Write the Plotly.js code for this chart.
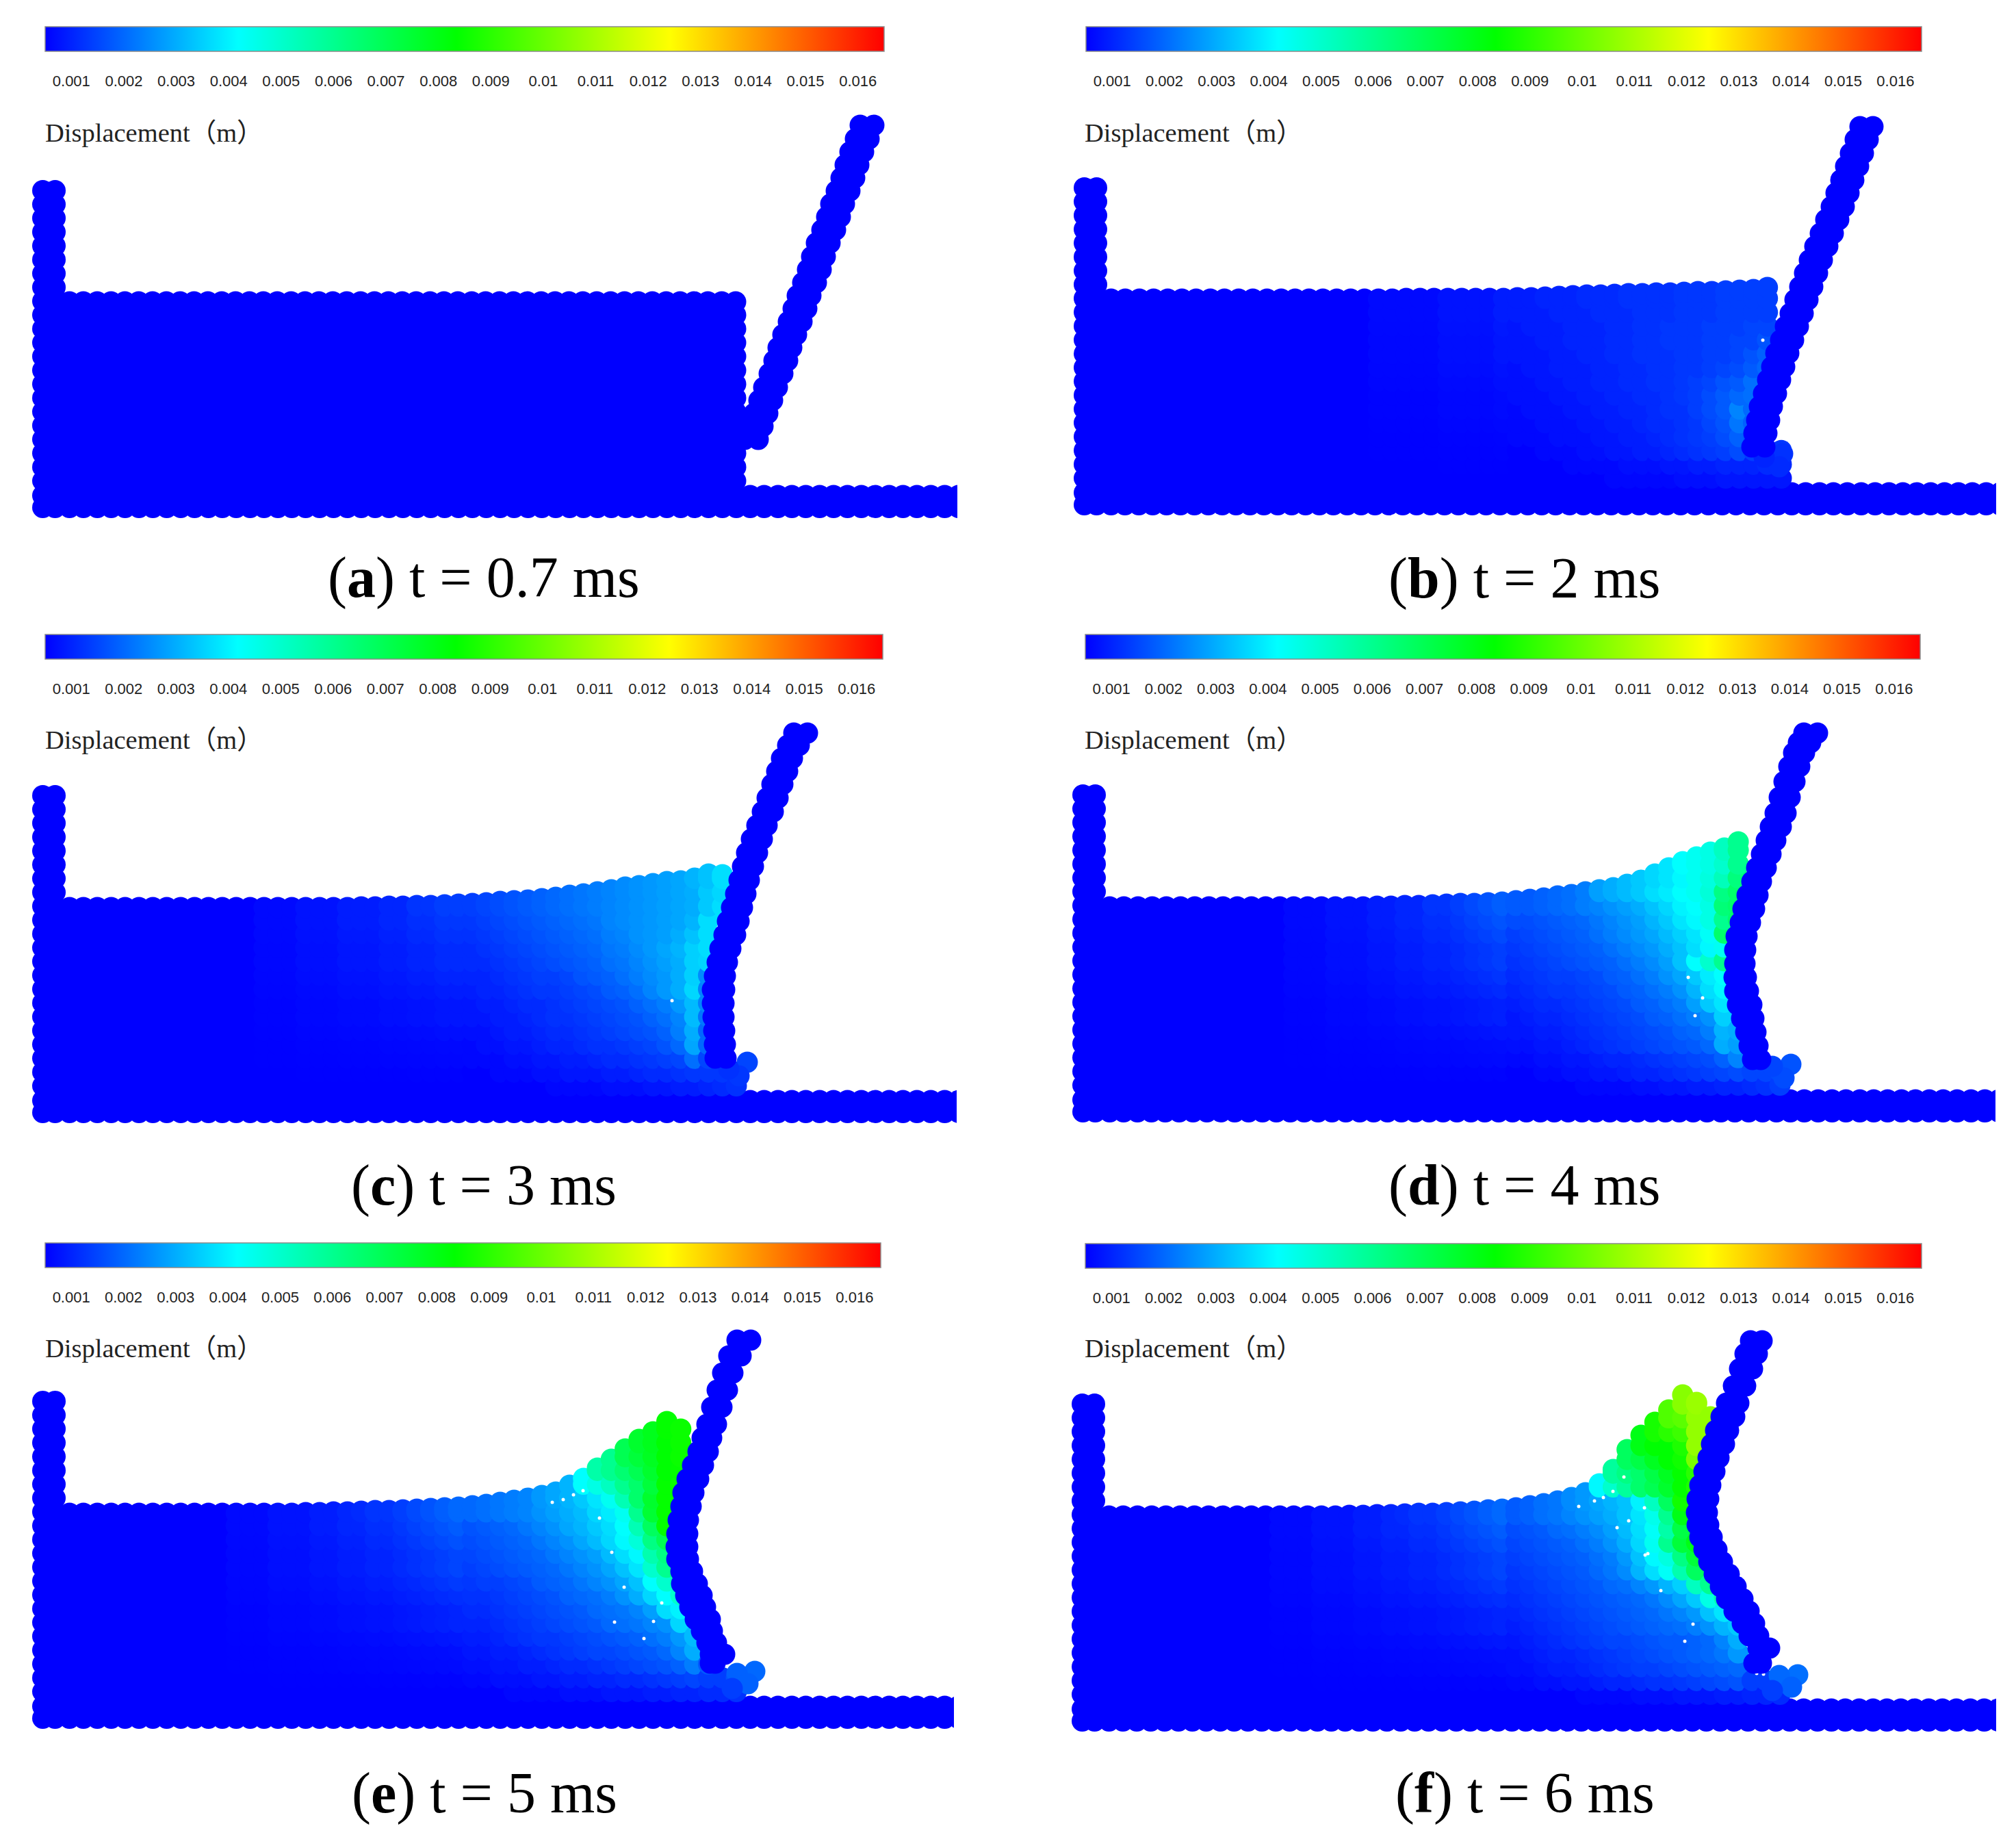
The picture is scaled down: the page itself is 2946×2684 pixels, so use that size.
<!DOCTYPE html>
<html><head><meta charset="utf-8">
<script src="https://cdn.plot.ly/plotly-3.0.1.min.js"></script>
<style>html,body{margin:0;padding:0;background:#fff}</style></head>
<body><div id="chart" style="width:2946px;height:2684px"></div>
<script>
// Particle lattice (reference pixels from wall foot)
const gridU=[15.5,33.5,54.6,74.9,95.2,115.5,135.8,156.1,176.4,196.7,217,237.3,257.6,277.9,298.2,318.5,338.8,359.1,379.4,399.7,420,440.3,460.6,480.9,501.2,521.5,541.8,562.1,582.4,602.7,623,643.3,663.6,683.9,704.2,724.5,744.8,765.1,785.4,805.7,826,846.3,866.6,886.9,907.2,927.5,947.8,968.1,988.4,1008.7,1029,1049.3,1069.6,1089.9,1110.2,1130.5,1150.8,1171.1,1191.4,1211.7,1232,1252.3,1272.6,1292.9,1313.2,1333.5,1353.8,1374.1];
const gridV=[15.5,33,54.4,74.6,94.8,115,135.2,155.4,175.6,195.8,216,236.2,256.4,276.6,296.8,317,337.2,357.4,377.6,397.8,418,438.2,458.4,478.6,498.8];
const rowShare=[0,0.05,0.15,0.2,0.33,0.5,0.5,0.67,0.83,1,1,1.17,1.33,1.5,1.6];
// Colour bar
const barTicks=[10,20,30,40,50,60,70,80,90,100,110,120,130,140,150,160];
const barLabels=['0.001','0.002','0.003','0.004','0.005','0.006','0.007','0.008','0.009','0.01','0.011','0.012','0.013','0.014','0.015','0.016'];
const captionLetters=['a','b','c','d','e','f'];
const captionTimes=['t = 0.7 ms','t = 2 ms','t = 3 ms','t = 4 ms','t = 5 ms','t = 6 ms'];
const unitLabel='Displacement（m）';
// Plate particles, two columns per panel
const plateU1_a=[1063,1070,1077,1084,1091,1099,1106,1112,1119,1127,1134,1140,1148,1155,1161,1168,1176,1183,1189,1197,1204,1210,1217,1225,1232];
const plateU2_a=[1041,1048,1055,1062,1069,1077,1084,1090,1097,1105,1112,1118,1126,1133,1139,1146,1154,1161,1167,1175,1182,1188,1195,1203,1210];
const plateV_a=[115,134,153,172,191,211,230,249,268,287,306,325,344,363,382,402,421,440,459,478,497,516,535,554,574];
const plateU1_b=[1006,1009,1013,1017,1023,1029,1035,1041,1048,1055,1062,1069,1076,1083,1090,1098,1106,1114,1122,1129,1136,1143,1150,1157,1164];
const plateU2_b=[985,988,992,996,1002,1008,1014,1020,1027,1034,1041,1048,1055,1062,1069,1077,1085,1093,1101,1108,1115,1122,1129,1136,1143];
const plateV_b=[100,120,139,159,178,198,217,237,256,276,295,315,334,354,373,393,412,432,451,471,490,510,529,549,568];
const plateU1_c=[1015,1014,1013,1012,1012,1013,1014,1017,1022,1029,1034,1039,1044,1049,1055,1061,1068,1075,1084,1091,1098,1105,1112,1122,1134];
const plateU2_c=[997,996,995,994,993,993,996,1000,1004,1010,1015,1021,1027,1032,1037,1043,1050,1058,1066,1073,1080,1087,1094,1103,1112];
const plateV_c=[95,115,135,155,175,195,215,235,255,275,295,315,335,355,375,395,415,435,455,475,495,514,533,552,570];
const plateU1_d=[1002,998,995,992,989,984,981,979,980,982,987,993,998,1003,1010,1017,1024,1032,1039,1045,1052,1059,1066,1075,1085];
const plateU2_d=[988,983,978,972,966,962,961,962,962,964,970,974,980,987,994,1001,1008,1014,1021,1027,1034,1041,1048,1055,1063];
const plateV_d=[92,112,132,152,172,192,212,232,252,272,292,312,332,352,372,392,412,432,452,475,498,520,540,555,569];
const plateU1_e=[999,1013,1001,995,992,985,980,973,966,960,959,959,960,964,968,975,982,989,994,1001,1009,1017,1025,1037,1051];
const plateU2_e=[990,990,985,977,968,960,954,948,947,941,940,941,943,947,950,956,964,972,978,985,992,1000,1008,1017,1029];
const plateV_e=[96,109,126,143,160,178,195,212,230,248,266,285,305,325,345,365,385,405,425,445,470,495,520,545,568];
const plateU1_f=[1003,1015,999,993,985,976,966,956,946,938,931,926,924,926,929,935,941,949,955,964,970,980,990,997,1004];
const plateU2_f=[990,996,983,973,961,950,941,932,924,917,911,907,906,907,911,917,923,928,934,942,950,960,969,977,985];
const plateV_f=[100,122,140,158,176,194,212,230,248,266,284,302,320,340,360,380,400,420,440,460,480,505,530,552,571];
// Water surface height per column (columns 2..50); 999 = limited by the table below
const top_a=[316,316,316,316,316,316,316,316,316,316,316,316,316,316,316,316,316,316,316,316,316,316,316,316,316,316,316,316,316,316,316,316,316,316,316,316,316,316,316,316,316,316,316,316,316,316,316,316,316];
const top_b=[316,316,316,316,316,316,316,316,316,316,316,316,316,316,316,316,316,316,316,316,316,317,317,317,317,317,317,317,317,318,318,319,320,321,322,322,323,324,324,325,325,326,327,327,328,329,330,333,999];
const top_c=[315,315,315,315,315,315,315,315,315,315,315,315,315,315,315,315,315,315,315,315,315,316,316,317,317,318,318,319,320,321,322,324,325,326,328,330,333,335,338,341,345,347,350,353,354,358,364,363,999];
const top_d=[315,315,315,315,315,315,315,315,315,315,315,315,315,315,315,315,315,315,315,316,316,317,317,318,319,320,320,321,322,324,326,328,331,333,337,340,343,348,354,363,372,381,388,395,401,410,999,999,999];
const top_e=[315,315,315,315,315,315,315,315,315,315,315,315,315,315,315,315,315,316,316,317,317,318,319,319,320,321,322,323,324,326,328,331,334,337,341,346,356,366,381,394,409,423,434,449,438,999,999,999,999];
const top_f=[315,315,315,315,315,315,315,315,315,315,315,315,315,315,315,315,315,316,316,317,317,318,319,319,320,321,322,324,325,327,330,333,337,342,349,362,383,412,433,452,470,492,481,460,999,999,999,999,999];
// Displacement (1e-4 m) of the far water, columns 2..30 (a: all columns)
const far_a=[5,5,5,5,5,5,5,5,5,5,5,5,5,5,5,5,5,5,5,5,5,5,5,5,5,5,5,5,5,5,5,5,5,5,5,5,5,5,5,5,5,5,5,5,5,5,5,5,5];
const far_b=[5,5,5,5,5,5,5,5,5,5,5,5,5,5,5,5,5,5,5,6,6,6,6,6,7,7,7,7,8];
const far_c=[5,5,5,5,5,5,5,5,5,5,5,5,5,5,6,6,6,7,7,7,8,8,8,9,9,10,10,11,11];
const far_d=[5,5,5,5,5,5,5,5,5,5,5,5,5,6,6,6,7,7,7,8,8,9,9,10,10,11,12,13,14];
const far_e=[5,5,5,5,5,5,5,5,5,5,5,5,6,6,6,7,7,7,8,8,9,9,10,10,11,12,13,14,15];
const far_f=[5,5,5,5,5,5,5,5,5,5,5,5,6,6,6,7,7,7,8,8,9,9,10,10,11,12,13,14,15];
// Displacement (1e-4 m) near the plate: rows from lattice row 2 up, columns from 31 right
const field_a=[];
const field_b=[
[5,5,5,5,5,5,5,6,6,6,6,6,7,7,7,8,8,8,8,8],
[5,5,5,5,6,6,6,6,7,7,7,8,8,9,9,10,10,10,11,11],
[5,5,6,6,6,7,7,8,8,9,9,10,11,12,13,14,16,14,10,13],
[6,6,6,7,7,7,8,8,9,9,10,11,12,13,14,16,19,18],
[6,6,7,7,7,8,8,9,9,10,11,11,12,13,15,17,22,19],
[6,7,7,7,8,8,9,9,10,10,11,12,12,14,16,18,24,20],
[7,7,7,8,8,9,9,10,10,11,11,12,13,14,16,18,20,21],
[7,7,8,8,9,9,10,10,11,11,12,12,13,14,15,17,18,21],
[7,8,8,9,9,9,10,10,11,11,12,12,13,13,14,15,16,18,20],
[8,8,8,9,9,10,10,11,11,12,12,12,13,13,14,14,15,17,19],
[8,8,9,9,10,10,10,11,11,12,12,13,13,13,14,14,15,15,17],
[8,9,9,9,10,10,10,11,11,12,12,13,13,13,14,14,14,15,15],
[9,9,9,10,10,10,11,11,11,12,12,12,13,13,13,14,14,14,14],
[9,9,10,10,10,11,11,11,12,12,12,12,13,13,13,14,14,14,14]];
const field_c=[
[5,5,5,5,5,5,6,6,6,6,7,7,7,8,8,9,9,10,11,12],
[5,5,6,6,6,7,7,8,8,8,9,9,10,11,11,12,13,13,13,14],
[6,6,6,7,7,8,8,9,9,10,11,11,12,13,14,15,21,15],
[6,7,7,8,8,9,10,10,11,12,12,13,14,15,17,20,29,20],
[7,7,8,9,9,10,11,11,12,13,14,15,16,17,19,23,30,20],
[8,8,9,9,10,11,12,12,13,14,15,16,17,19,21,24,32,22],
[8,9,9,10,11,11,12,13,14,15,16,17,19,21,23,27,32,24],
[9,10,10,11,12,13,13,14,15,16,18,19,21,24,27,30,36,24],
[10,10,11,12,13,14,14,15,17,18,19,21,23,25,27,30,35,25],
[11,11,12,13,14,15,16,17,18,19,21,22,24,26,28,30,35,36],
[11,12,13,14,15,16,17,18,19,20,22,23,25,27,29,31,35,37],
[12,13,14,15,16,17,18,19,20,21,23,24,26,27,28,30,33,37],
[13,14,15,16,17,18,19,20,21,22,24,25,26,27,28,29,31,37],
[14,15,16,17,18,19,20,21,22,23,24,25,26,27,28,29,30,34,37],
[0,0,0,0,0,0,0,0,0,23,24,25,26,27,28,29,30,34,36],
[0,0,0,0,0,0,0,0,0,0,0,0,0,0,0,0,31,33,37]];
const field_d=[
[5,5,5,5,5,6,6,6,6,7,7,8,8,9,9,10,10,11,12,14],
[5,5,6,6,7,7,8,8,9,10,10,11,12,13,14,15,16,15,15,16],
[6,6,7,7,8,8,9,10,10,11,12,13,14,15,16,19,24],
[7,7,8,8,9,10,11,12,13,14,15,16,17,18,20,30,28],
[8,8,9,9,10,11,12,13,14,15,16,17,19,20,23,31,30],
[8,9,10,10,11,12,13,14,15,16,18,19,21,23,26,35],
[9,10,11,11,12,13,14,15,16,18,19,21,23,28,34,38],
[10,11,12,13,13,14,15,16,18,19,21,23,26,31,37,41],
[11,12,13,14,14,15,16,18,19,21,23,26,29,34,39,42],
[12,13,14,15,16,17,18,19,21,23,25,28,33,42,50,60],
[13,14,15,16,17,18,19,21,23,25,27,30,33,37,41,44],
[14,15,16,17,18,19,21,23,25,27,29,32,35,38,43,66],
[16,16,17,18,19,20,22,24,26,28,31,34,38,41,46,60,66],
[18,18,19,20,21,23,24,26,28,30,33,36,40,42,46,64,66],
[20,20,21,22,24,26,28,30,32,34,37,39,42,44,48,62,66],
[0,0,0,0,0,0,0,0,31,33,36,38,41,44,47,53,63],
[0,0,0,0,0,0,0,0,0,0,36,39,42,44,46,50,60],
[0,0,0,0,0,0,0,0,0,0,0,0,43,45,47,52,60],
[0,0,0,0,0,0,0,0,0,0,0,0,0,0,0,56,58]];
const field_e=[
[5,5,5,6,6,6,6,7,7,7,8,8,8,9,9,10,10,11,11,12],
[6,6,7,7,7,8,8,9,9,10,10,11,11,12,13,14,15,14,14,17],
[7,7,8,8,9,9,10,11,11,12,13,14,15,16,17,19,23,18],
[8,8,9,9,10,11,12,13,14,15,15,16,17,18,20,24,30],
[9,9,10,11,12,13,13,14,15,16,17,18,19,21,23,27,32],
[10,10,11,12,13,14,15,16,17,18,20,21,22,24,26,36],
[11,11,12,13,14,15,16,17,18,20,21,22,24,28,37,40],
[12,12,13,14,15,16,17,19,20,21,23,26,30,36,42,50],
[13,14,14,15,16,18,19,20,22,24,26,29,33,42,50,55],
[14,15,16,17,18,19,20,22,24,26,29,33,38,50,60],
[15,16,17,18,19,20,22,24,26,28,32,37,41,55,62],
[16,17,18,19,20,22,24,26,29,32,36,41,48,62,70],
[17,18,19,20,22,24,26,29,31,34,37,42,54,68,84],
[20,21,22,23,24,26,28,30,32,36,39,44,60,75,84],
[22,23,24,25,26,27,29,31,34,38,44,54,66,76,84],
[0,0,0,0,0,0,0,38,42,46,52,60,66,74,84,85],
[0,0,0,0,0,0,0,0,42,56,60,65,70,76,83,84],
[0,0,0,0,0,0,0,0,0,60,66,70,74,78,83,85],
[0,0,0,0,0,0,0,0,0,0,0,72,76,79,83,85],
[0,0,0,0,0,0,0,0,0,0,0,0,76,80,84,85]];
const field_f=[
[5,5,5,5,5,6,6,6,6,7,7,7,8,8,8,9,9,10,10,11],
[6,6,7,7,8,8,9,10,10,11,12,12,13,14,15,16,17,14,14,16],
[7,7,8,9,9,10,11,12,13,14,14,15,16,17,18,19,20],
[7,8,9,10,10,11,12,13,14,15,16,17,18,19,20,22,27],
[8,9,10,11,12,13,14,15,15,16,17,18,18,19,20,24,30],
[9,10,11,12,13,14,15,16,17,18,19,20,21,23,26,31,34],
[10,11,12,13,14,15,16,17,18,19,20,22,24,27,33,38],
[11,12,13,14,15,16,17,18,19,20,22,25,29,34,46,55],
[12,13,14,15,16,17,18,20,21,24,27,31,35,52,60],
[13,14,15,16,17,18,20,22,25,31,37,43,55,68],
[14,15,16,17,18,19,21,23,27,33,41,47,62,74],
[15,16,17,18,19,21,23,26,30,36,44,60,74,80],
[16,17,18,20,21,23,25,28,32,37,43,56,72],
[18,19,21,22,24,26,28,30,33,38,45,60,80],
[22,22,23,24,25,27,29,31,33,40,52,68,86],
[0,0,0,0,0,34,41,50,58,66,70,76,84,88],
[0,0,0,0,0,0,45,58,62,66,72,78,84,90],
[0,0,0,0,0,0,0,60,68,72,78,83,86,103],
[0,0,0,0,0,0,0,0,74,80,83,83,88,107],
[0,0,0,0,0,0,0,0,0,83,87,90,93,107],
[0,0,0,0,0,0,0,0,0,0,92,96,98,107,107],
[0,0,0,0,0,0,0,0,0,0,0,100,105,108,108]];
// Water particles squeezed out under the plate
const toeU_a=[],toeV_a=[],toeD_a=[];
const toeU_b=[1031,1026,1004],toeV_b=[90,71,85],toeD_b=[12,11,10];
const toeU_c=[1045,1033,1018],toeV_c=[89,69,79],toeD_c=[15,13,12];
const toeU_d=[1045,1035,1018],toeV_d=[85,65,82],toeD_d=[17,16,15];
const toeU_e=[1056,1030,1046,1023],toeV_e=[84,81,66,59],toeD_e=[20,19,19,14];
const toeU_f=[1055,1028,1046,1018],toeV_f=[83,82,65,60],toeD_f=[21,20,19,14];
// Small cavities between particles
const voidU_a=[],voidV_a=[];
const voidU_b=[989,1002],voidV_b=[88,256];
const voidU_c=[935,993],voidV_c=[179,209];
const voidU_d=[895,905,916],voidV_d=[212,156,182];
const voidU_e=[760,776,791,805,829,847,865,920,908,894,851],voidV_e=[331,335,342,348,308,258,207,184,157,132,156];
const voidU_f=[785,771,758,735,801,831,808,791,836,832,855,902,890,985,995,1005,981],voidV_f=[351,342,337,329,372,327,308,298,260,258,206,157,132,92,85,84,107];

// Page frame of each panel (reference pixels); du = offset of the moving water and plate from the wall
const frames=[
 {L:47,  du:-1,B:757, end:1399,barX:66,  barW:1226,barY:39,  unitY:194, unitX:64,  capX:707, capY:844},
 {L:1569,du:5, B:753, end:2917,barX:1587,barW:1221,barY:39,  unitY:194, unitX:1583,capX:2227,capY:845},
 {L:47,  du:0, B:1641,end:1398,barX:66,  barW:1224,barY:927, unitY:1081,unitX:64,  capX:707, capY:1732},
 {L:1567,du:5, B:1640,end:2916,barX:1586,barW:1220,barY:927, unitY:1081,unitX:1583,capX:2227,capY:1732},
 {L:47,  du:0, B:2526,end:1394,barX:66,  barW:1221,barY:1816,unitY:1970,unitX:64,  capX:708, capY:2620},
 {L:1566,du:6, B:2530,end:2917,barX:1586,barW:1222,barY:1817,unitY:1970,unitX:1583,capX:2228,capY:2620}];
const sets=[
 {top:top_a,far:far_a,field:field_a,pu1:plateU1_a,pu2:plateU2_a,pv:plateV_a,tu:toeU_a,tv:toeV_a,td:toeD_a,vu:voidU_a,vv:voidV_a},
 {top:top_b,far:far_b,field:field_b,pu1:plateU1_b,pu2:plateU2_b,pv:plateV_b,tu:toeU_b,tv:toeV_b,td:toeD_b,vu:voidU_b,vv:voidV_b},
 {top:top_c,far:far_c,field:field_c,pu1:plateU1_c,pu2:plateU2_c,pv:plateV_c,tu:toeU_c,tv:toeV_c,td:toeD_c,vu:voidU_c,vv:voidV_c},
 {top:top_d,far:far_d,field:field_d,pu1:plateU1_d,pu2:plateU2_d,pv:plateV_d,tu:toeU_d,tv:toeV_d,td:toeD_d,vu:voidU_d,vv:voidV_d},
 {top:top_e,far:far_e,field:field_e,pu1:plateU1_e,pu2:plateU2_e,pv:plateV_e,tu:toeU_e,tv:toeV_e,td:toeD_e,vu:voidU_e,vv:voidV_e},
 {top:top_f,far:far_f,field:field_f,pu1:plateU1_f,pu2:plateU2_f,pv:plateV_f,tu:toeU_f,tv:toeV_f,td:toeD_f,vu:voidU_f,vv:voidV_f}];

const W=2946,H=2684,DOT=31,PLATE_INSET=1;
const rainbow=[[0,'#0000ff'],[0.23,'#00ffff'],[0.49,'#00ff00'],[0.745,'#ffff00'],[1,'#ff0000']];
const traces=[];
const layout={width:W,height:H,paper_bgcolor:'#fff',plot_bgcolor:'rgba(0,0,0,0)',showlegend:false,
 margin:{l:0,r:0,t:0,b:0,autoexpand:false},annotations:[]};

frames.forEach((f,i)=>{
  const s=sets[i],n=i+1,ax=n===1?'':String(n);
  const xa='x'+ax,ya='y'+ax,ca='coloraxis'+ax;
  layout['xaxis'+ax]={visible:false,fixedrange:true,anchor:ya,range:[-10,f.end-f.L],
    domain:[(f.L-10)/W,f.end/W]};
  layout['yaxis'+ax]={visible:false,fixedrange:true,anchor:xa,range:[-10,600],
    domain:[1-(f.B+10)/H,1-(f.B-600)/H]};
  layout[ca]={cmin:5,cmax:165,colorscale:rainbow,colorbar:{
    orientation:'h',x:f.barX/W,xanchor:'left',xpad:0,y:1-f.barY/H,yanchor:'top',ypad:0,
    len:f.barW,lenmode:'pixels',thickness:36,thicknessmode:'pixels',
    outlinecolor:'#8a8a8a',outlinewidth:1.5,
    tickmode:'array',tickvals:barTicks,ticktext:barLabels,ticks:'outside',ticklen:24,tickcolor:'rgba(0,0,0,0)',
    tickfont:{family:'Liberation Sans',size:22,color:'#222'}}};

  // wall + floor
  const bx=[],by=[];
  gridU.forEach(u=>gridV.slice(0,2).forEach(v=>{bx.push(u);by.push(v);}));
  gridU.slice(0,2).forEach(u=>gridV.slice(2,24).forEach(v=>{bx.push(u);by.push(v);}));
  traces.push({type:'scatter',mode:'markers',xaxis:xa,yaxis:ya,x:bx,y:by,hoverinfo:'skip',
    marker:{size:DOT,color:'#0000ff',line:{width:0}}});

  // water: the offset du eases in over the first columns so no holes open at the wall
  const fx=[],fy=[],fd=[];
  for(let c=2;c<=50;c++){
    const t=s.top[c-2],cu=gridU[c]+f.du*Math.min(1,(c-2)/12);let lastD=0,lastV=0;
    for(let r=2;r<gridV.length&&gridV[r]<t;r++){
      const d=(c-2<s.far.length)?5+(s.far[c-2]-5)*rowShare[r-2]:((s.field[r-2]||[])[c-31]||0);
      if(d>0){fx.push(cu);fy.push(gridV[r]);fd.push(d);lastD=d;lastV=gridV[r];}
    }
    if(t<900&&lastD>0&&t-lastV>0.5){fx.push(cu);fy.push(t);fd.push(lastD);}
  }
  traces.push({type:'scatter',mode:'markers',xaxis:xa,yaxis:ya,
    x:fx.concat(s.tu.map(u=>u+f.du)),y:fy.concat(s.tv),hoverinfo:'skip',
    marker:{size:DOT,color:fd.concat(s.td),coloraxis:ca,line:{width:0}}});

  // cavities
  traces.push({type:'scatter',mode:'markers',xaxis:xa,yaxis:ya,x:s.vu.map(u=>u+f.du),y:s.vv,hoverinfo:'skip',
    marker:{size:5,color:'#ffffff',line:{width:0}}});

  // plate
  traces.push({type:'scatter',mode:'markers',xaxis:xa,yaxis:ya,
    x:s.pu2.map(u=>u+f.du+PLATE_INSET).concat(s.pu1.map(u=>u+f.du-PLATE_INSET)),y:s.pv.concat(s.pv),hoverinfo:'skip',
    marker:{size:DOT,color:'#0000ff',line:{width:0}}});

  layout.annotations.push({xref:'paper',yref:'paper',x:f.unitX/W,y:1-f.unitY/H,xanchor:'left',yanchor:'middle',
    showarrow:false,text:unitLabel,font:{family:'Liberation Serif, Noto Sans CJK SC',size:38.5,color:'#222'}});
  layout.annotations.push({xref:'paper',yref:'paper',x:f.capX/W,y:1-f.capY/H,xanchor:'center',yanchor:'middle',
    showarrow:false,text:'(<b>'+captionLetters[i]+'</b>) '+captionTimes[i],font:{family:'Liberation Serif',size:84,color:'#000'}});
});
Plotly.newPlot('chart',traces,layout,{displayModeBar:false,responsive:false});
</script></body></html>
